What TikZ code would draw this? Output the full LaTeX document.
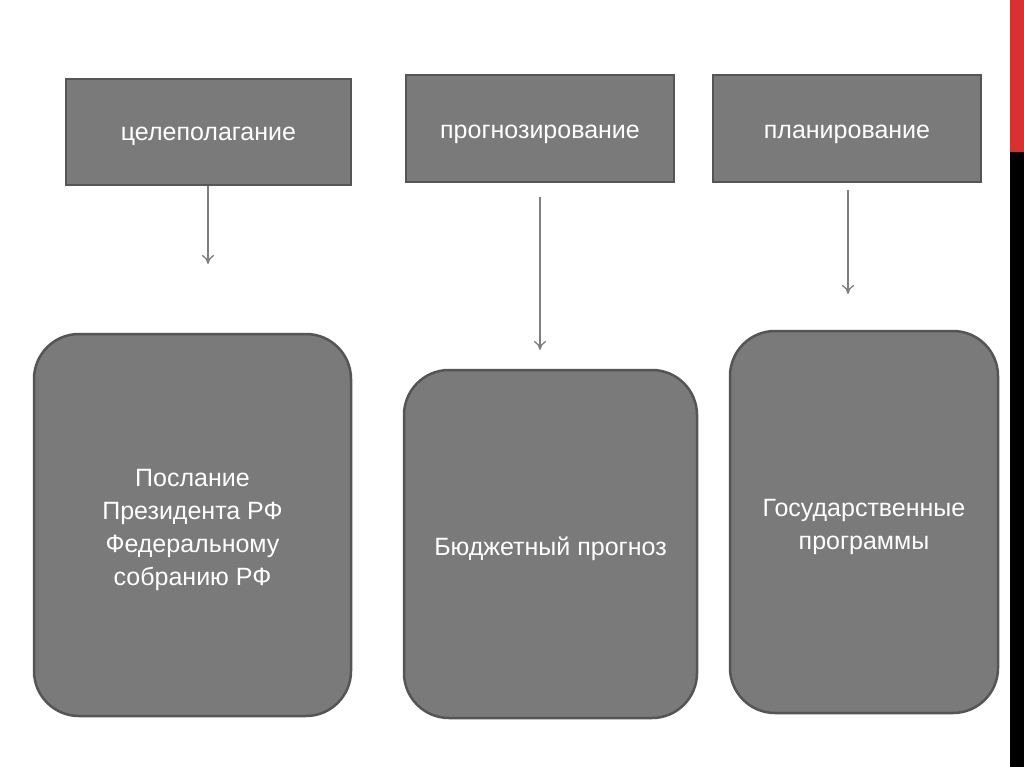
\documentclass[tikz,border=0pt]{standalone}
\usepackage{fontspec}
\setmainfont{Liberation Sans}
\usetikzlibrary{arrows.meta}
\definecolor{boxfill}{HTML}{7A7A7A}
\definecolor{boxline}{HTML}{555555}
\definecolor{arrowc}{HTML}{7F7F7F}
\definecolor{barred}{HTML}{D93030}
\newcommand{\boxtext}[2][-4.5pt]{\raisebox{#1}[\height][\depth]{\begin{tabular}{@{}c@{}}#2\end{tabular}}}
\tikzset{
  topbox/.style={draw=boxline, line width=2.5pt, fill=boxfill, text=white,
    font=\fontsize{25}{33}\selectfont, inner sep=0pt},
  roundbox/.style={topbox, rounded corners=45pt},
  conn/.style={draw=arrowc, line width=1.3pt, -{To[length=9pt,width=12pt]}}
}
\begin{document}
\begin{tikzpicture}[x=1pt,y=-1pt]
\path[use as bounding box, fill=white] (0,0) rectangle (1024,767);
\fill[barred] (1010,0) rectangle (1024,152);
\fill[black] (1010,152) rectangle (1024,767);

\node[topbox, minimum width=285pt, minimum height=106pt] (b1) at (208.5,132) {\boxtext[-2pt]{целеполагание}};
\node[topbox, minimum width=268pt, minimum height=107pt] (b2) at (540,128.5) {\boxtext[-3pt]{прогнозирование}};
\node[topbox, minimum width=268pt, minimum height=107pt] (b3) at (847,128.5) {\boxtext[-3pt]{планирование}};

\node[roundbox, minimum width=317pt, minimum height=382pt] (r1) at (192.5,525) {\boxtext{Послание\\Президента РФ\\Федеральному\\собранию РФ}};
\node[roundbox, minimum width=293pt, minimum height=348pt] (r2) at (550.5,544) {\boxtext{Бюджетный прогноз}};
\node[roundbox, minimum width=268pt, minimum height=382pt] (r3) at (864,522) {\boxtext{Государственные\\программы}};

\coordinate (a1s) at (208,186);
\coordinate (a1e) at (208,264);
\coordinate (a2s) at (540,197);
\coordinate (a2e) at (540,350);
\coordinate (a3s) at (848,190);
\coordinate (a3e) at (848,294);

\draw[conn] (a1s) -- (a1e);
\draw[conn] (a2s) -- (a2e);
\draw[conn] (a3s) -- (a3e);
\end{tikzpicture}
\end{document}
